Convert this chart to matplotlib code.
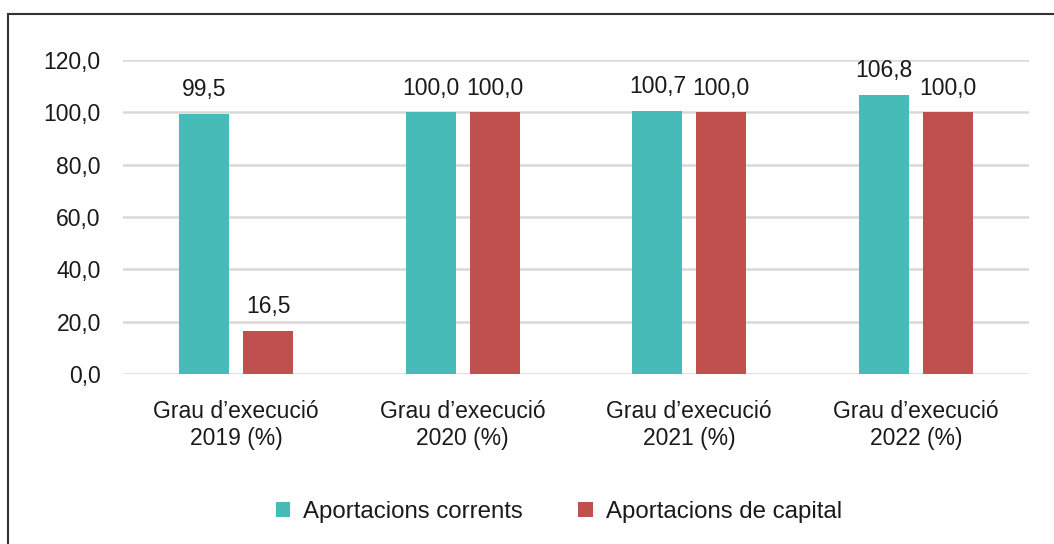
import matplotlib
matplotlib.use("Agg")
import matplotlib.pyplot as plt
from matplotlib.patches import Rectangle
import numpy as np

categories = ["Grau d\u2019execució\n2019 (%)", "Grau d\u2019execució\n2020 (%)",
              "Grau d\u2019execució\n2021 (%)", "Grau d\u2019execució\n2022 (%)"]
corrents = [99.5, 100.0, 100.7, 106.8]
capital = [16.5, 100.0, 100.0, 100.0]
series_names = ["Aportacions corrents", "Aportacions de capital"]
yticks = [0, 20, 40, 60, 80, 100, 120]

plt.rcParams['font.family'] = ['Liberation Sans', 'DejaVu Sans']
txt = '#1a1a1a'
fs = 16.5

fig = plt.figure(figsize=(10.54, 5.44), dpi=100)
ax = fig.add_axes([123/1054, 1-374/544, 906/1054, 314/544])

x = np.arange(len(categories))
w = 0.221
off = 0.141
b1 = ax.bar(x - off, corrents, w, color='#47BBB7', label=series_names[0], zorder=3)
b2 = ax.bar(x + off, capital, w, color='#C0504D', label=series_names[1], zorder=3)

def fmt(v):
    return f"{v:.1f}".replace('.', ',')

for bars, vals in ((b1, corrents), (b2, capital)):
    for r, v in zip(bars, vals):
        ax.annotate(fmt(v), (r.get_x() + r.get_width()/2, v), xytext=(0, 9),
                    textcoords='offset points', ha='center', va='bottom',
                    fontsize=fs, color=txt)

ax.set_xlim(-0.5, 3.5)
ax.set_ylim(0, 120)
ax.set_yticks(yticks)
ax.set_yticklabels([fmt(t) for t in yticks], fontsize=fs, color=txt)
ax.set_xticks(x)
ax.set_xticklabels(categories, fontsize=fs, color=txt, linespacing=1.25)
ax.tick_params(axis='both', length=0)
ax.tick_params(axis='y', pad=16)
ax.tick_params(axis='x', pad=18.5)
ax.yaxis.grid(True, color='#D9D9D9', lw=1.8, zorder=0)
for s in ax.spines.values():
    s.set_visible(False)

leg = fig.legend(handles=[b1, b2], loc='center', bbox_to_anchor=(559/1054, 1-512/544),
                 ncol=2, frameon=False, fontsize=17.3, handlelength=0.6, handleheight=0.6,
                 columnspacing=2.3, handletextpad=0.55)
for t in leg.get_texts():
    t.set_color(txt)

fig.patches.append(Rectangle((8/1054, -0.1), 1.2, 1 - 14/544 + 0.1, transform=fig.transFigure,
                             fill=False, edgecolor='#333333', lw=1.5))

fig.savefig("out.png", dpi=100)
